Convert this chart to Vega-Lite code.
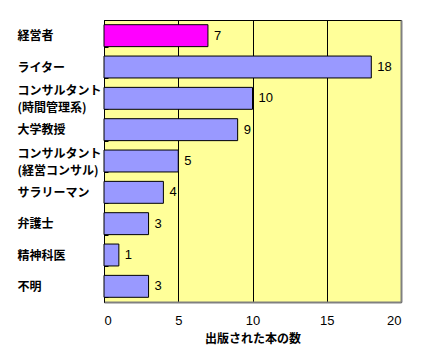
{
  "$schema": "https://vega.github.io/schema/vega-lite/v6.json",
  "autosize": "none",
  "width": 297,
  "height": 282,
  "padding": {"left": 104, "top": 20, "right": 32, "bottom": 59},
  "background": "white",
  "config": {
    "view": {"fill": "#FFFF99", "stroke": "#000000", "strokeWidth": 1},
    "axis": {"labelColor": "#000000", "titleColor": "#000000"}
  },
  "data": {
    "values": [
      {"cat": "経営者", "n": 7, "hi": "y"},
      {"cat": "ライター", "n": 18, "hi": "n"},
      {"cat": "コンサルタント|(時間管理系)", "n": 10, "hi": "n"},
      {"cat": "大学教授", "n": 9, "hi": "n"},
      {"cat": "コンサルタント|(経営コンサル)", "n": 5, "hi": "n"},
      {"cat": "サラリーマン", "n": 4, "hi": "n"},
      {"cat": "弁護士", "n": 3, "hi": "n"},
      {"cat": "精神科医", "n": 1, "hi": "n"},
      {"cat": "不明", "n": 3, "hi": "n"}
    ]
  },
  "encoding": {
    "y": {
      "field": "cat", "type": "nominal", "sort": null,
      "scale": {"paddingInner": 0.3, "paddingOuter": 0.15},
      "axis": {
        "title": null,
        "labelExpr": "split(datum.label, '|')",
        "labelAlign": "left",
        "labelPadding": 91,
        "labelOffset": {"condition": {"test": "indexof(datum.label, '|') >= 0", "value": -8}, "value": 0},
        "labelFont": "Noto Sans CJK JP",
        "labelFontWeight": "bold",
        "labelFontSize": 12,
        "labelLineHeight": 17,
        "labelLimit": 200,
        "ticks": true,
        "tickBand": "extent",
        "tickSize": -4,
        "tickColor": "#000000",
        "domainColor": "#000000",
        "grid": false
      }
    },
    "x": {
      "field": "n", "type": "quantitative",
      "scale": {"domain": [0, 20], "nice": false},
      "axis": {
        "title": "出版された本の数",
        "titleFont": "Noto Sans CJK JP",
        "titleFontWeight": "bold",
        "titleFontSize": 12,
        "titlePadding": 6,
        "values": [0, 5, 10, 15, 20],
        "labelFont": "Liberation Sans",
        "labelFontSize": 13,
        "labelPadding": 12,
        "ticks": false,
        "domainColor": "#808080",
        "domainWidth": 2,
        "grid": true,
        "gridColor": {"condition": {"test": "datum.value == 20", "value": "#808080"}, "value": "#000000"},
        "gridWidth": {"condition": {"test": "datum.value == 20", "value": 2}, "value": 1},
        "gridOpacity": 1
      }
    }
  },
  "layer": [
    {
      "mark": {"type": "bar", "stroke": "#000000", "strokeWidth": 1},
      "encoding": {
        "color": {
          "field": "hi", "type": "nominal",
          "scale": {"domain": ["y", "n"], "range": ["#FF00FF", "#9999FF"]},
          "legend": null
        }
      }
    },
    {
      "mark": {"type": "text", "align": "left", "dx": 6, "font": "Liberation Sans", "fontSize": 13, "color": "#000000"},
      "encoding": {"text": {"field": "n", "type": "quantitative"}}
    }
  ]
}
